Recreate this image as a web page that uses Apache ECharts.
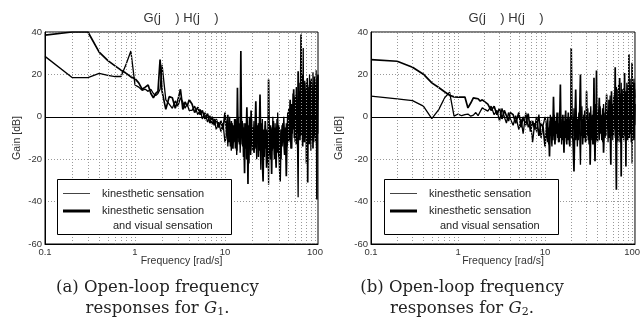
<!DOCTYPE html>
<html><head><meta charset="utf-8">
<script src="https://cdn.jsdelivr.net/npm/echarts@6/dist/echarts.min.js"></script>
<style>html,body{margin:0;padding:0;background:#fff}#c{width:643px;height:332px}</style>
</head><body><div id="c"></div>
<script>
// frequency points [rad/s]
const freq = [
  0.1,0.2,0.3,0.4,0.5,0.6,0.7,0.8,0.9,1.0,
  1.1,1.2,1.3,1.4,1.5,1.6,1.7,1.8,1.9,2.0,
  2.2,2.4,2.6,2.8,3.0,3.2,3.4,3.6,3.8,4.0,
  4.3,4.6,5.0,5.3,5.6,6.0,6.4,6.8,7.2,7.6,
  8.0,8.5,9.0,9.5,10,
  10.25,10.5,10.75,11,11.25,11.5,11.75,12,12.25,12.5,
  12.75,13,13.25,13.5,13.75,14,14.25,14.5,14.75,15,
  15.25,15.5,15.75,16,16.25,16.5,16.75,17,17.25,17.5,
  17.75,18,18.25,18.5,18.75,19,19.25,19.5,19.75,20,
  20.5,21,21.5,22,22.5,23,23.5,24,24.5,25,
  25.5,26,26.5,27,27.5,28,28.5,29,29.5,30,
  30.5,31,31.5,32,32.5,33,33.5,34,34.5,35,
  35.5,36,36.5,37,37.5,38,38.5,39,39.5,40,
  41,42,43,44,45,46,47,48,49,50,
  51,52,53,54,55,56,57,58,59,60,
  61,62,63,64,65,66,67,68,69,70,
  71,72,73,74,75,76,77,78,79,80,
  81,82,83,84,85,86,87,88,89,90,
  91,92,93,94,95,96,97,98,99,100,
  101,102,103,104,105,106,107,108
];
// (a) G1 - kinesthetic sensation [dB]
const g1Kin = [
  28.5,18.5,18.5,20.5,19.5,19,19,25,31,15,
  14,12.5,13,12,13,11,10,11,13,24.5,
  8,6,4,7.5,5,9,7,4,6,3,
  3,5,1,3.5,-1,2,-2.5,0.5,-3.5,-1,
  -6,-2.5,-7,-3,-12,
  -10,-2,-14,-6,0,-9,-16,-3,-7,-12,
  -1,-15,-5,-18,-8,0,-12,-4,-17,-7,
  -1,-13,-6,-19,-3,-10,-15,-5,-20,-8,
  -2,-12,-6,-22,-9,-4,-14,-11,-1,-16,
  -12,-2,-15,-6,-20,-9,-3,-16,-7,-25,
  -11,-1,-14,-8,-19,-4,-13,-6,-22,-10,
  -32,-3,-12,-20,-5,-9,-16,0,-13,-7,
  -18,-3,-11,-22,-6,-14,2,-9,-19,-5,
  -8,-20,-4,-12,0,-9,-16,-3,-14,-6,
  4,-11,-3,-15,6,-8,11,-5,9,-12,
  3,14,-7,-15,-38,9,-4,16,-9,12,
  -5,20,-8,32.5,-12,6,17,-10,13,-22,
  8,-6,15,-12,10,-4,20,-9,13,-16,
  18,-8,14,-3,21,-12,11,-5,17,-10,
  15,-7,22,-14,12,-4,19,8
];
// (a) G1 - kinesthetic and visual sensation [dB]
const g1KinVis = [
  38.5,40,40,30.5,26.5,24,22,20.5,18.8,18,
  16,13,14,15,11,9,11,12,27,12,
  3.5,9.5,9,4,8,13,3.5,7,5,8,
  6,2,4.5,1,3,-1,1.5,-3,0,-4,
  -1,-5,-2,-6,2,
  -4,-9,1,-12,-3,-14,-2,-8,-15,-4,
  -11,-1,-9,-16,13.7,-10,-3,-13,-6,31,
  -8,-2,-14,-5,-11,-26.6,-3,-12,-6,4.5,
  -9,-31.7,-4,-15,0,-10,-18,3,-7,-13,
  -5,-17,-8,7.3,-12,-4,-19,-9,10.5,-14,
  -3,-21,-30.5,-6,-15,-2,-11,-24,-7,-16,
  17.6,-9,-18,-4,-13,-27,-6,-15,-2,-11,
  -20,-5,-14,-24,-8,-1,-17,-10,-4,-19,
  -30.5,-6,-14,-3,-11,-18,-5,-28,-8,2,
  -12,-4,8,-9,-15,5,-6,13,-10,-2,
  10,-13,6,-8,21.5,-5,12,-11,4,38.8,
  -9,7,-14,15,-6,14,-12,9,-4,16,
  -10,18.3,-31,11,-7,14,-13,8,-5,17,
  -11,16,-6,12,-15,10,-3,19,-9,14,
  -12,11,-5,15,-39,18.3,-8,20
];
// (b) G2 - kinesthetic sensation [dB]
const g2Kin = [
  9.8,8.5,7.6,5,-0.9,3.4,8.9,11.6,0.3,1.3,
  0.5,1,1.3,0.3,0.8,2,0.5,2.5,4.2,3.5,
  2.7,5,1,3,-2,4,0,-3,2,-1,
  -4,0.5,-6,-1,-8,2,-5,-2,-12,-3,
  -7,1,-10,-4,0,
  -2,-10,0,-13,-6,1,-9,-14,-3,-7,
  1,-5,-11,0,-8,-3,-12,2,-6,-10,
  -1,-13,-5,0,-9,-4,-12,1,-8,-2,
  -7,-11,0,-9,-4,-13,-1,-6,3,-10,
  -1,-9,4,-6,-11,0,-14,-4,2,-8,
  -22.6,-3,5,-10,-1,-7,3,-12,-5,0,
  -9,4,-6,-13,-2,-8,5,-4,-11,1,
  -7,3,-10,-2,-14,6,-5,-9,2,-8,
  3,-11,5,-7,1,-12,6,-3,-10,7,
  -5,2,-12,8,-6,10,-3,-9,6,-11,
  8,-6,12,-10,5,14,-7,9,-12,15,
  -4,-9,11,-6,16,-10,13,-3,10,-11,
  14,-8,11,-12,9,-5,16,-9,12,-6,
  17,-10,13,-5,18,-8,15,-12,11,-22,
  12,-6,16,-9,18,-10,13,9
];
// (b) G2 - kinesthetic and visual sensation [dB]
const g2KinVis = [
  27,26.2,23.4,20.1,16,13.8,11.8,10.2,9.4,9.3,
  9.3,9.3,4.2,6.5,8.9,8.7,8.5,7.4,8,8.2,
  6,3,5,1,4,-1,3,0.5,-2,2,
  1,-3,2,-5,0,-4,1.5,-7,-2,-6,
  0,-9,-3,-5,-14,
  -8,-3,-12,-5,-18.7,-2,-9,0,-11,9.4,
  -6,-13,-2,-8,2,-10,-4,-12,-1,15.2,
  -9,-3,-11,1,-7,-17,-2,-10,3,-6,
  -13,-1,-8,2,-11,-4,-14,0,-7,32.5,
  -6,-12,-25.8,-3,12.9,-8,-1,-11,-5,3,
  20,-9,-2,-13,-6,1,-10,-4,-12,12.1,
  -7,-1,-11,-5,2,-22.6,-8,0,-10,-3,
  -13,-6,18.4,-9,-21,-2,-11,21.8,-5,-12,
  -4,9,-8,-2,-11,4,-17,-5,2,-9,
  10.5,-6,3,-10,5,-4,-22.6,12.1,-7,4,
  -9,10,-3,23.4,-8,-34.4,6,-11,13,-5,
  9,18.3,-12,5,-28.1,11,-6,8,-10,13,
  -4,20.7,-9,6,-23.4,12,-5,9,-11,15,
  -7,29.5,-10,7,-3,14,-8,11,-12,25.5,
  -6,10,-9,14,-11,16,-4,6
];
const xTickLabels = ['0.1','1','10','100'];
const legendNames = ['kinesthetic sensation', 'kinesthetic sensation', 'and visual sensation'];
const titleText = 'G(j    ) H(j    )';

const SANS = '"Liberation Sans", Arial, sans-serif';
const SERIF = '"DejaVu Serif", serif';
const pairs = v => freq.map((f, i) => [f, v[i]]);
const gridFreqs = [];
[0.1, 1, 10].forEach(d => { for (let k = 2; k <= 10; k++) gridFreqs.push(+(d * k).toFixed(4)); });

const grids = [
  {left: 45, top: 32, width: 273, height: 212, show: true, borderColor: '#000', borderWidth: 1},
  {left: 371, top: 32, width: 270, height: 212, show: true, borderColor: '#000', borderWidth: 1}
];
const xAxes = [0, 1].map(i => ({
  gridIndex: i, type: 'log', logBase: 10, min: 0.1, max: 108,
  axisLine: {show: true, onZero: false, lineStyle: {color: '#000', width: 1}},
  axisTick: {show: false}, splitLine: {show: false},
  axisLabel: {color: '#333', fontSize: 9.5, fontFamily: SANS, margin: 3,
    formatter: v => xTickLabels.find(t => Math.abs(Math.log10(+t) - Math.log10(v)) < 1e-6) || ''},
  name: 'Frequency [rad/s]', nameLocation: 'middle', nameGap: 12, nameMoveOverlap: false,
  nameTextStyle: {color: '#333', fontSize: 10.5, fontFamily: SANS}
}));
const yAxes = [0, 1].map(i => ({
  gridIndex: i, type: 'value', min: -60, max: 40, interval: 20,
  axisLine: {show: true, onZero: false, lineStyle: {color: '#000', width: 1}},
  axisTick: {show: false},
  splitLine: {show: true, lineStyle: {color: '#999', type: [1, 2], width: 1}},
  axisLabel: {color: '#333', fontSize: 9.5, fontFamily: SANS, margin: 3},
  name: 'Gain [dB]', nameLocation: 'middle', nameRotate: 90, nameGap: i === 0 ? 22 : 26,
  nameTextStyle: {color: '#333', fontSize: 10.5, fontFamily: SANS}
}));

const series = [];
[0, 1].forEach(i => {
  series.push({
    type: 'line', xAxisIndex: i, yAxisIndex: i, data: [], silent: true, z: 1,
    markLine: {
      silent: true, symbol: 'none', animation: false, label: {show: false},
      lineStyle: {color: '#999', type: [1, 2], width: 1},
      data: gridFreqs.map(f => ({xAxis: f})).concat([{yAxis: 0, lineStyle: {color: '#000', type: 'solid', width: 1}}])
    }
  });
});
const lineSeries = [
  [0, g1Kin, 1.3], [0, g1KinVis, 1.7], [1, g2Kin, 1.3], [1, g2KinVis, 1.7]
];
lineSeries.forEach(([i, v, w]) => series.push({
  type: 'line', xAxisIndex: i, yAxisIndex: i, data: pairs(v), symbol: 'none',
  lineStyle: {color: '#000', width: w}, z: 3, animation: false
}));

function legendGroup(x0) {
  const tf = '11px ' + SANS;
  return {
    type: 'group', z: 100, children: [
      {type: 'rect', shape: {x: x0 + 0.5, y: 179.5, width: 174, height: 55}, style: {fill: '#fff', stroke: '#000', lineWidth: 1}, z: 100},
      {type: 'line', shape: {x1: x0 + 6, y1: 193.5, x2: x0 + 33, y2: 193.5}, style: {stroke: '#444', lineWidth: 1}, z: 101},
      {type: 'line', shape: {x1: x0 + 6, y1: 211, x2: x0 + 33, y2: 211}, style: {stroke: '#000', lineWidth: 3}, z: 101},
      {type: 'text', x: x0 + 45, y: 193.5, z: 101, style: {text: legendNames[0], fill: '#222', font: tf, textVerticalAlign: 'middle', verticalAlign: 'middle'}},
      {type: 'text', x: x0 + 45, y: 211, z: 101, style: {text: legendNames[1], fill: '#222', font: tf, textVerticalAlign: 'middle', verticalAlign: 'middle'}},
      {type: 'text', x: x0 + 56, y: 225.5, z: 101, style: {text: legendNames[2], fill: '#222', font: tf, textVerticalAlign: 'middle', verticalAlign: 'middle'}}
    ]
  };
}
function centerText(x, y, text, font, fill, rich) {
  return {type: 'text', x: x, y: y, z: 100, style: {text: text, font: font, fill: fill || '#222',
    textAlign: 'center', align: 'center', textVerticalAlign: 'middle', verticalAlign: 'middle', rich: rich}};
}
const capRich = {
  n: {font: '16.5px ' + SERIF, fill: '#222'},
  i: {font: 'italic 16.5px ' + SERIF, fill: '#222'},
  s: {font: '11px ' + SERIF, fill: '#222', padding: [7, 0, 0, 0]}
};
const graphic = [
  centerText(181, 18, titleText, '13px ' + SANS, '#333'),
  centerText(506, 18, titleText, '13px ' + SANS, '#333'),
  legendGroup(57), legendGroup(384),
  centerText(157.5, 288, '(a) Open-loop frequency', '16.5px ' + SERIF),
  centerText(157.5, 309, '{n|responses for }{i|G}{s|1}{n|.}', '16.5px ' + SERIF, '#222', capRich),
  centerText(462, 288, '(b) Open-loop frequency', '16.5px ' + SERIF),
  centerText(462, 309, '{n|responses for }{i|G}{s|2}{n|.}', '16.5px ' + SERIF, '#222', capRich)
];

const chart = echarts.init(document.getElementById('c'));
chart.setOption({
  animation: false, backgroundColor: '#fff',
  grid: grids, xAxis: xAxes, yAxis: yAxes, series: series, graphic: graphic
});
</script></body></html>
